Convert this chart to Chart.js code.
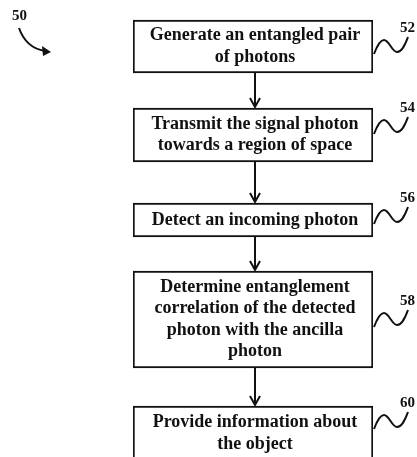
<!DOCTYPE html>
<html>
<head>
<meta charset="utf-8">
<script src="https://cdn.jsdelivr.net/npm/chart.js@4.4.0/dist/chart.umd.min.js"></script>
<style>
  html, body { margin: 0; padding: 0; background: #fff; }
  canvas { display: block; }
</style>
</head>
<body>
<canvas id="myChart" width="417" height="457"></canvas>
<script>
const steps = [
  ["Generate an entangled pair", "of photons"],
  ["Transmit the signal photon", "towards a region of space"],
  ["Detect an incoming photon"],
  ["Determine entanglement", "correlation of the detected", "photon with the ancilla", "photon"],
  ["Provide information about", "the object"],
];
const refNums = ["52", "54", "56", "58", "60"];
// vertical extent of each box, in y-axis units (0 at top)
const boxTop = [20, 108, 203, 271, 406];
const boxBottom = [73, 162, 237, 368, 461];
// where each reference numeral sits
const refY = [28, 108, 198, 301, 403];
const figureNum = "50";

const FONT = "bold 18px 'Liberation Serif', 'Times New Roman', serif";
const NUM_FONT = "bold 15px 'Liberation Serif', 'Times New Roman', serif";

const flowPlugin = {
  id: "flow",
  afterDatasetsDraw(chart) {
    const ctx = chart.ctx;
    const yScale = chart.scales.y;
    const boxes = [];
    chart.data.datasets.forEach((ds, i) => {
      const bar = chart.getDatasetMeta(i).data[0];
      boxes.push({
        x: bar.x,
        left: bar.x - bar.width / 2,
        right: bar.x + bar.width / 2,
        top: Math.min(bar.y, bar.base),
        bottom: Math.max(bar.y, bar.base),
      });
    });

    ctx.save();
    ctx.fillStyle = "#111";
    ctx.strokeStyle = "#111";
    ctx.lineWidth = 2;

    // box texts
    ctx.font = FONT;
    ctx.textAlign = "center";
    ctx.textBaseline = "middle";
    const lh = 21.5;
    boxes.forEach((b, i) => {
      const lines = steps[i];
      const cy = (b.top + b.bottom) / 2;
      lines.forEach((line, k) => {
        ctx.fillText(line, b.x + 2, cy + (k - (lines.length - 1) / 2) * lh);
      });
    });

    // arrows between boxes
    for (let i = 0; i < boxes.length - 1; i++) {
      const ax = boxes[i].x + 2;
      const y0 = boxes[i].bottom;
      const y1 = boxes[i + 1].top - 1;
      ctx.beginPath();
      ctx.moveTo(ax, y0);
      ctx.lineTo(ax, y1);
      ctx.stroke();
      ctx.beginPath();
      ctx.moveTo(ax - 5, y1 - 9);
      ctx.lineTo(ax, y1);
      ctx.lineTo(ax + 5, y1 - 9);
      ctx.stroke();
    }

    // reference numerals with squiggle leaders
    ctx.font = NUM_FONT;
    ctx.textAlign = "left";
    ctx.textBaseline = "middle";
    ctx.lineWidth = 2;
    boxes.forEach((b, i) => {
      const ny = yScale.getPixelForValue(refY[i]);
      ctx.fillText(refNums[i], b.right + 27, ny);
      const sx = b.right + 1;
      const sy = ny + 26;
      ctx.beginPath();
      ctx.moveTo(sx, sy);
      ctx.bezierCurveTo(sx + 3, sy - 8, sx + 6, sy - 14, sx + 10, sy - 14);
      ctx.bezierCurveTo(sx + 15, sy - 14, sx + 18, sy - 2, sx + 23, sy - 2);
      ctx.bezierCurveTo(sx + 28, sy - 2, sx + 31, sy - 9, sx + 34, sy - 17);
      ctx.stroke();
    });

    // figure number with curved arrow
    ctx.fillText(figureNum, 12, 16);
    ctx.beginPath();
    ctx.moveTo(19, 28);
    ctx.quadraticCurveTo(26, 48, 45, 51);
    ctx.stroke();
    ctx.beginPath();
    ctx.moveTo(51, 52);
    ctx.lineTo(42, 46);
    ctx.lineTo(43, 56);
    ctx.closePath();
    ctx.fill();

    ctx.restore();
  },
};

const ctx = document.getElementById("myChart");

new Chart(ctx, {
  type: "bar",
  data: {
    labels: ["flow"],
    datasets: steps.map((s, i) => ({
      label: refNums[i],
      data: [[boxBottom[i], boxTop[i]]],
      grouped: false,
      backgroundColor: "#fff",
      borderColor: "#111",
      borderWidth: 2,
      borderSkipped: false,
      categoryPercentage: 1,
      barPercentage: 1,
    })),
  },
  options: {
    responsive: false,
    animation: false,
    layout: { padding: { left: 133, right: 44, top: 0, bottom: 0 } },
    plugins: {
      legend: { display: false },
      tooltip: { enabled: false },
    },
    scales: {
      x: { display: false },
      y: { display: false, reverse: true, min: 0, max: 457 },
    },
  },
  plugins: [flowPlugin],
});
</script>
</body>
</html>
